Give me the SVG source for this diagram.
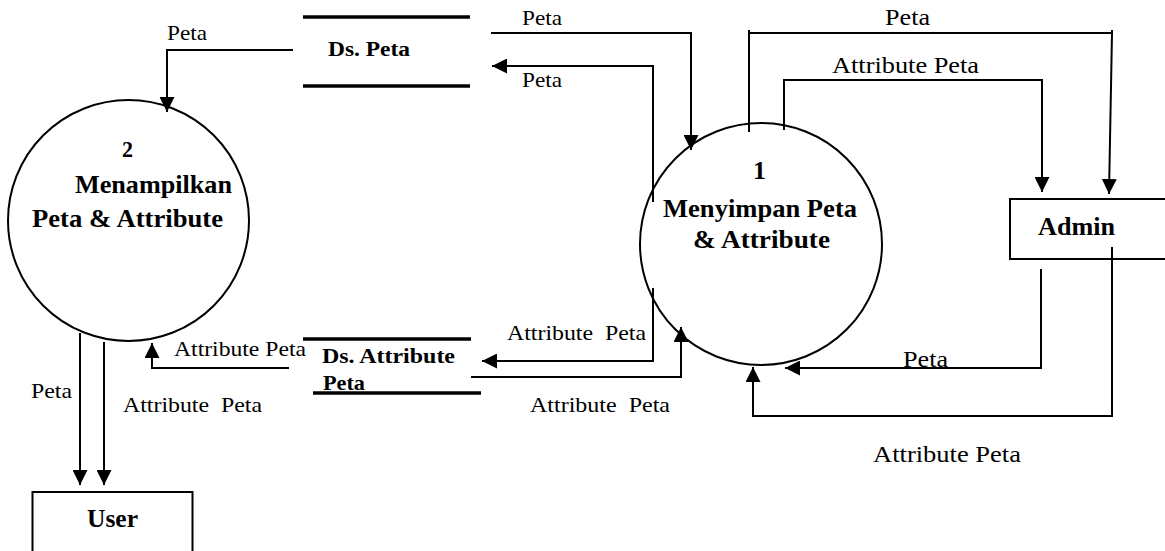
<svg xmlns="http://www.w3.org/2000/svg" width="1165" height="551" viewBox="0 0 1165 551">
<style>
.bg{fill:#fff}
.proc{fill:none;stroke:#000;stroke-width:2}
.box{fill:#fff;stroke:#000;stroke-width:2}
.store{stroke:#000;stroke-width:3.5}
.con{fill:none;stroke:#000;stroke-width:2}
.arr{marker-end:url(#ah)}
text{font-family:"Liberation Serif","Times New Roman",serif;fill:#000;white-space:pre}
.l{font-size:21px}
.l2{font-size:23px}
.b{font-weight:bold}
</style>
<defs>
<marker id="ah" markerUnits="userSpaceOnUse" markerWidth="15" markerHeight="15" refX="15" refY="7.5" orient="auto">
<path d="M0,0 L15,7.5 L0,15 z" fill="#000"/>
</marker>
</defs>
<rect class="bg" x="0" y="0" width="1165" height="551"/>

<g id="connectors">
<path class="con arr" d="M293,50 H167 V112"/>
<path class="con arr" d="M491,33 H691 V150"/>
<path class="con arr" d="M653,202 V66 H492"/>
<path class="con" d="M749,132 V30"/>
<path class="con arr" d="M749,33 H1112 L1109,194"/>
<path class="con" d="M1112,30 V34"/>
<path class="con arr" d="M784,130 V80 H1042 V192"/>
<path class="con arr" d="M1041,269 V368 H785"/>
<path class="con arr" d="M1112,247 V416 H753 V367"/>
<path class="con arr" d="M653,288 V361 H482"/>
<path class="con arr" d="M471,377 H681 V327"/>
<path class="con arr" d="M289,368 H152 V343"/>
<path class="con arr" d="M80,333 V485"/>
<path class="con arr" d="M104,342 V485"/>
</g>

<g id="ds-peta">
<line class="store" x1="303" y1="17" x2="470" y2="17"/>
<line class="store" x1="303" y1="86" x2="470" y2="86"/>
<text class="b" x="328" y="56" font-size="20" textLength="82" lengthAdjust="spacingAndGlyphs">Ds. Peta</text>
</g>

<g id="ds-attribute-peta">
<line class="store" x1="303" y1="339" x2="471" y2="339"/>
<line class="store" x1="313" y1="393" x2="481" y2="393"/>
<text class="b" x="322" y="363" font-size="22" textLength="133" lengthAdjust="spacingAndGlyphs">Ds. Attribute</text>
<text class="b" x="323" y="390" font-size="22" textLength="42" lengthAdjust="spacingAndGlyphs">Peta</text>
</g>

<g id="proc-2">
<circle class="proc" cx="128.5" cy="220.5" r="120.5"/>
<text class="b" x="122" y="157" font-size="24" textLength="11" lengthAdjust="spacingAndGlyphs">2</text>
<text class="b" x="75" y="193" font-size="26" textLength="157" lengthAdjust="spacingAndGlyphs">Menampilkan</text>
<text class="b" x="32" y="227" font-size="26" textLength="191" lengthAdjust="spacingAndGlyphs">Peta &amp; Attribute</text>
</g>

<g id="proc-1">
<circle class="proc" cx="761" cy="244" r="121"/>
<text class="b" x="753" y="179" font-size="26" textLength="13" lengthAdjust="spacingAndGlyphs">1</text>
<text class="b" x="663" y="217" font-size="26" textLength="194" lengthAdjust="spacingAndGlyphs">Menyimpan Peta</text>
<text class="b" x="693" y="248" font-size="26" textLength="137" lengthAdjust="spacingAndGlyphs">&amp; Attribute</text>
</g>

<g id="admin">
<rect class="box" x="1010" y="199" width="170" height="60"/>
<text class="b" x="1038" y="235" font-size="26" textLength="77" lengthAdjust="spacingAndGlyphs">Admin</text>
</g>
<path class="con" d="M1112,247 V260"/>

<g id="user">
<rect class="box" x="32.5" y="492" width="160" height="80"/>
<text class="b" x="87" y="527" font-size="26" textLength="51" lengthAdjust="spacingAndGlyphs">User</text>
</g>

<g id="labels">
<text class="l" x="167" y="40" textLength="40" lengthAdjust="spacingAndGlyphs">Peta</text>
<text class="l" x="522" y="25" textLength="40" lengthAdjust="spacingAndGlyphs">Peta</text>
<text class="l" x="522" y="87" textLength="40" lengthAdjust="spacingAndGlyphs">Peta</text>
<text class="l2" x="885" y="25" textLength="45" lengthAdjust="spacingAndGlyphs">Peta</text>
<text class="l2" x="832" y="73" textLength="147" lengthAdjust="spacingAndGlyphs">Attribute Peta</text>
<text class="l" x="174" y="356" textLength="132" lengthAdjust="spacingAndGlyphs">Attribute Peta</text>
<text class="l" x="31" y="398" textLength="41" lengthAdjust="spacingAndGlyphs">Peta</text>
<text class="l" x="123" y="412" textLength="139" lengthAdjust="spacingAndGlyphs">Attribute  Peta</text>
<text class="l" x="507" y="340" textLength="139" lengthAdjust="spacingAndGlyphs">Attribute  Peta</text>
<text class="l" x="530" y="412" textLength="140" lengthAdjust="spacingAndGlyphs">Attribute  Peta</text>
<text class="l2" x="903" y="367" textLength="45" lengthAdjust="spacingAndGlyphs">Peta</text>
<text class="l2" x="873" y="462" textLength="148" lengthAdjust="spacingAndGlyphs">Attribute Peta</text>
</g>
</svg>
